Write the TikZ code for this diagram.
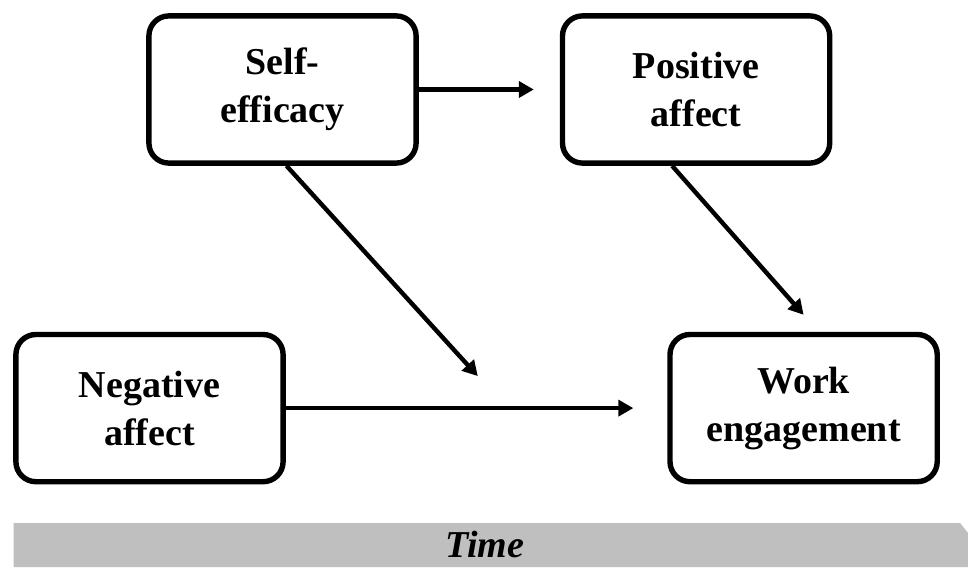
\documentclass[tikz,border=0pt]{standalone}
\usepackage{fontspec}
\setmainfont{Liberation Serif}
\usetikzlibrary{arrows.meta, positioning}
\definecolor{timegray}{HTML}{BFBFBF}

\begin{document}
\begin{tikzpicture}[
    construct/.style={rectangle, draw, line width=2.7pt, rounded corners=10pt, minimum width=133.6pt, minimum height=73.6pt, align=center, font=\fontsize{19}{24}\selectfont\bfseries},
    arrow/.style={-{Triangle[length=7.5pt, width=8pt]}, line width=2.2pt},
    timebar/.style={fill=timegray},
    x=1pt, y=1pt
]
    \useasboundingbox (0,0) rectangle (484,-283.5);

    % Constructs
    \node[construct] (se) at (141.25,-44.75) {Self-\\efficacy};
    \node[construct, right=70.5pt of se] (pa) {Positive\\affect};
    \node[construct, below=83pt of se, xshift=-66.5pt] (na) {Negative\\affect};
    \node[construct, below=83pt of pa, xshift=53.75pt] (we) {Work\\engagement};
    \coordinate[above right=16pt and 96pt of na.east] (mod);

    % Paths
    \draw[arrow, shorten >=13pt] (se) -- (pa);
    \draw[arrow] ([xshift=2pt]se.south) -- (mod);
    \draw[arrow] ([xshift=-12pt]pa.south) -- ([yshift=8.5pt]we.north);
    \draw[arrow, shorten >=17pt] (na) -- (we);

    % Time bar
    \fill[timebar] (6.8,-261.5) -- (480,-261.5) -- (484,-266.5) -- (484,-283.5) -- (6.8,-283.5) -- cycle;
    \node[font=\fontsize{19}{22}\selectfont\bfseries\itshape] (time) at (242.5,-272) {Time};
\end{tikzpicture}
\end{document}
